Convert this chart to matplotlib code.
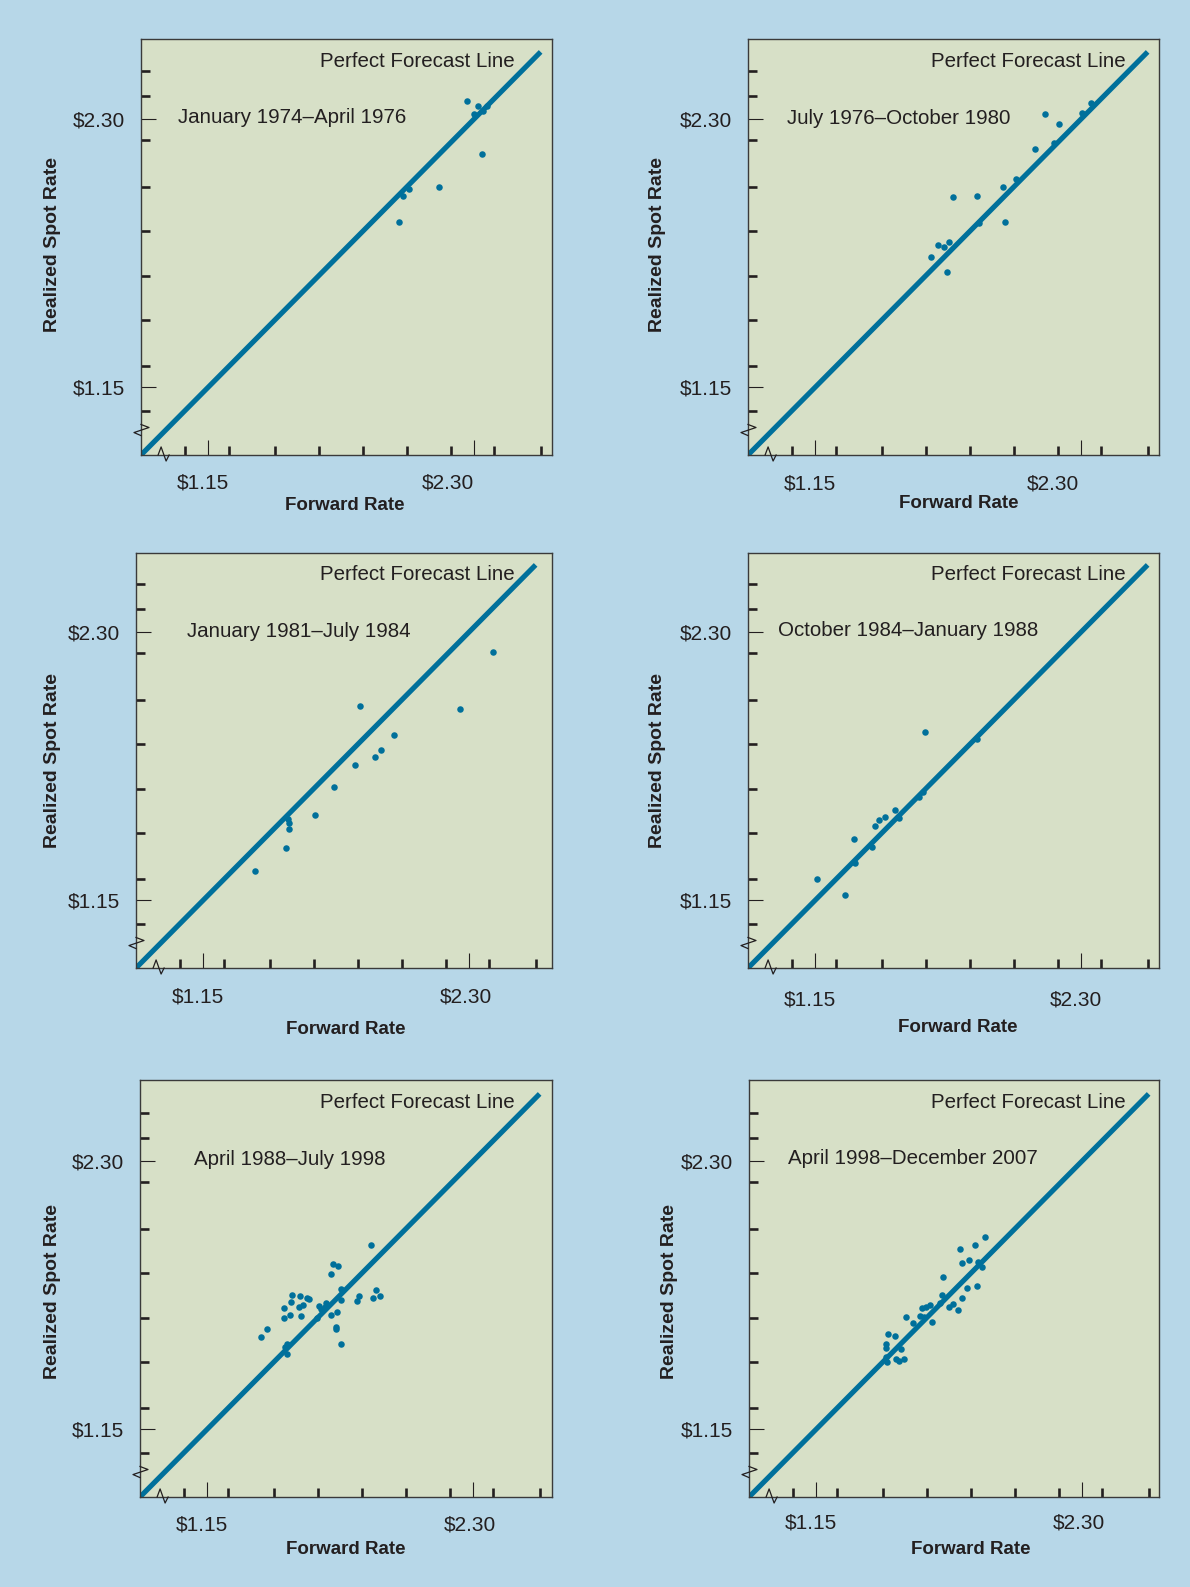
import matplotlib
matplotlib.use('Agg')
import matplotlib.pyplot as plt

plt.rcParams['font.family'] = ['Liberation Sans', 'DejaVu Sans']

# period titles for the six panels
periods = ['January 1974\u2013April 1976', 'July 1976\u2013October 1980',
           'January 1981\u2013July 1984', 'October 1984\u2013January 1988',
           'April 1988\u2013July 1998', 'April 1998\u2013December 2007']

# forward rate (x) and realized spot rate (y), $ per pound
fwd_1974 = [2.270, 2.302, 2.318, 2.341, 2.358, 2.336, 2.150, 2.021, 1.993, 1.977]
spot_1974 = [2.378, 2.324, 2.357, 2.338, 2.357, 2.152, 2.010, 2.003, 1.973, 1.861]

fwd_1976 = [2.344, 2.305, 2.147, 2.205, 2.185, 2.104, 2.019, 1.964, 1.851, 1.747,
            1.860, 1.973, 1.729, 1.681, 1.710, 1.654, 1.720]
spot_1976 = [2.369, 2.327, 2.325, 2.282, 2.200, 2.175, 2.045, 2.009, 1.972, 1.969,
             1.857, 1.861, 1.775, 1.760, 1.753, 1.711, 1.644]

fwd_1981 = [2.404, 2.263, 1.828, 1.976, 1.919, 1.895, 1.809, 1.718, 1.635, 1.517,
            1.522, 1.524, 1.511, 1.374]
spot_1981 = [2.218, 1.972, 1.983, 1.861, 1.797, 1.766, 1.730, 1.636, 1.517, 1.499,
             1.481, 1.455, 1.374, 1.275]

fwd_1984 = [1.626, 1.619, 1.602, 1.496, 1.454, 1.428, 1.408, 1.319, 1.160, 1.280,
            1.853, 1.515, 1.395, 1.323]
spot_1984 = [1.873, 1.617, 1.594, 1.539, 1.507, 1.496, 1.471, 1.414, 1.243, 1.172,
             1.844, 1.504, 1.381, 1.312]

fwd_1988 = [1.859, 1.696, 1.718, 1.688, 1.729, 1.519, 1.554, 1.582, 1.592, 1.512,
            1.567, 1.547, 1.482, 1.731, 1.880, 1.900, 1.869, 1.808, 1.799, 1.667,
            1.636, 1.642, 1.686, 1.714, 1.508, 1.558, 1.482, 1.625, 1.707, 1.708,
            1.408, 1.385, 1.730, 1.496, 1.486, 1.496, 1.661]
spot_1988 = [1.942, 1.861, 1.850, 1.817, 1.753, 1.728, 1.724, 1.714, 1.710, 1.698,
             1.685, 1.677, 1.671, 1.705, 1.747, 1.724, 1.713, 1.721, 1.701, 1.691,
             1.681, 1.666, 1.642, 1.653, 1.640, 1.637, 1.630, 1.630, 1.588, 1.581,
             1.580, 1.545, 1.518, 1.517, 1.505, 1.474, 1.674]

fwd_1998 = [1.883, 1.840, 1.775, 1.781, 1.812, 1.850, 1.869, 1.699, 1.846, 1.805,
            1.783, 1.763, 1.744, 1.726, 1.694, 1.687, 1.644, 1.626, 1.610, 1.600,
            1.651, 1.540, 1.571, 1.618, 1.463, 1.492, 1.452, 1.452, 1.518, 1.453,
            1.459, 1.496, 1.511, 1.532]
spot_1998 = [1.977, 1.943, 1.924, 1.863, 1.877, 1.867, 1.848, 1.804, 1.767, 1.757,
             1.714, 1.663, 1.687, 1.674, 1.726, 1.691, 1.685, 1.674, 1.670, 1.638,
             1.610, 1.631, 1.608, 1.631, 1.560, 1.550, 1.517, 1.499, 1.494, 1.462,
             1.441, 1.451, 1.445, 1.452]

fwd_all = [fwd_1974, fwd_1976, fwd_1981, fwd_1984, fwd_1988, fwd_1998]
spot_all = [spot_1974, spot_1976, spot_1981, spot_1984, spot_1988, spot_1998]

major_ticks = [1.15, 2.30]
major_labels = ['$1.15', '$2.30']
minor_x = [1.05, 1.24, 1.44, 1.63, 1.82, 2.01, 2.20, 2.39, 2.59]
minor_y = [1.05, 1.24, 1.44, 1.63, 1.82, 2.01, 2.21, 2.40, 2.51]
forecast_line = [0.86, 2.59]

# layout (pixels): axes boxes and label placement per panel
W, H = 1190, 1587
boxes = [(141, 39, 552, 455), (748, 39, 1159, 455),
         (136, 553, 552, 968), (748, 553, 1159, 968),
         (140, 1080, 552, 1497), (749, 1080, 1159, 1497)]
xlab_pos = [(1.13, 2.19), (1.13, 2.18), (1.13, 2.29), (1.13, 2.28), (1.13, 2.29), (1.13, 2.29)]
xlab_drop = [28, 29, 29, 32, 28, 26]
xtitle = [(0.495, 51), (0.512, 48), (0.505, 61), (0.51, 60), (0.50, 52), (0.54, 52)]
ytitle = [(-0.215, 0.507), (-0.219, 0.507), (-0.200, 0.499), (-0.219, 0.499), (-0.212, 0.494), (-0.193, 0.494)]
period_pos = [(0.090, 0.811), (0.095, 0.809), (0.123, 0.811), (0.073, 0.8135), (0.132, 0.809), (0.096, 0.811)]
pfl_pos = [(0.910, 0.945), (0.918, 0.946), (0.911, 0.947), (0.918, 0.947), (0.910, 0.945), (0.918, 0.945)]

bg = '#b7d7e8'
face = '#d7e0c7'
blue = '#00709b'
ink = '#231f20'
px = 231.0  # pixels per dollar

fig = plt.figure(figsize=(W / 100, H / 100), dpi=100, facecolor=bg)

for i in range(6):
    l, t, r, b = boxes[i]
    ax = fig.add_axes([l / W, 1 - b / H, (r - l) / W, (b - t) / H])
    ax.set_facecolor(face)
    ax.set_xlim(0.86, 0.86 + (r - l) / px)
    ax.set_ylim(0.86, 0.86 + (b - t) / 233.0)

    ax.plot(forecast_line, forecast_line, color=blue, lw=3.7, solid_capstyle='butt', zorder=2)
    ax.scatter(fwd_all[i], spot_all[i], s=22, color=blue, linewidths=0, zorder=3)

    ax.set_xticks(major_ticks)
    ax.set_xticklabels([])
    ax.set_yticks(major_ticks)
    ax.set_yticklabels(major_labels, fontsize=15, color=ink)
    for lab in ax.get_yticklabels():
        lab.set_verticalalignment('center_baseline')
    ax.set_xticks(minor_x, minor=True)
    ax.set_yticks(minor_y, minor=True)
    ax.tick_params(which='major', direction='in', length=10.5, width=0.8, color=ink, pad=11.5)
    ax.tick_params(which='minor', direction='in', length=6.5, width=1.9, color=ink)
    for s in ax.spines.values():
        s.set_linewidth(1.0)
        s.set_color('#3a3a3a')

    # x tick labels placed by hand (some are offset in the original)
    tr = ax.get_xaxis_transform()
    for xv, lab in zip(xlab_pos[i], major_labels):
        ax.text(xv, -xlab_drop[i] / (b - t), lab, transform=tr, ha='center', va='center',
                fontsize=15, color=ink)

    ax.text(xtitle[i][0], -xtitle[i][1] / (b - t), 'Forward Rate', transform=ax.transAxes,
            ha='center', va='center', fontsize=13.5, fontweight='bold', color=ink)
    ax.text(ytitle[i][0], ytitle[i][1], 'Realized Spot Rate', transform=ax.transAxes,
            ha='center', va='center', rotation=90, fontsize=14, fontweight='bold', color=ink)
    ax.text(period_pos[i][0], period_pos[i][1], periods[i], transform=ax.transAxes,
            ha='left', va='center', fontsize=14.8, color=ink)
    ax.text(pfl_pos[i][0], pfl_pos[i][1], 'Perfect Forecast Line', transform=ax.transAxes,
            ha='right', va='center', fontsize=14.8, color=ink)

    # axis break marks
    zx = [0.96 + d / px for d in (-6, -3, 2, 5)]
    zy = [0.86 + d / px for d in (0, 8, -6, 0)]
    ax.plot(zx, zy, color=ink, lw=0.9, clip_on=False, zorder=4)
    zx2 = [0.86 + d / px for d in (0, 8, -7, 0)]
    zy2 = [0.965 + d / px for d in (6, 3, -2, -5)]
    ax.plot(zx2, zy2, color=ink, lw=0.9, clip_on=False, zorder=4)

fig.savefig('out.png', dpi=100, facecolor=bg)
